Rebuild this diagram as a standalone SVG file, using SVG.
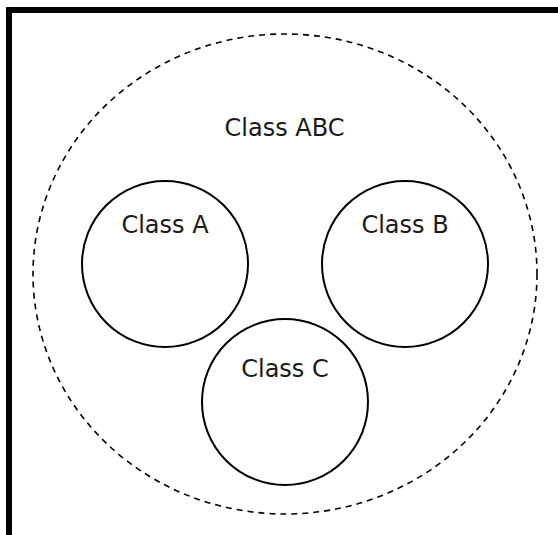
<svg xmlns="http://www.w3.org/2000/svg" width="558" height="535" viewBox="0 0 558 535">
<style>
.t{font-family:"DejaVu Sans","Verdana",sans-serif;font-size:24px;fill:#1a1a1a;text-anchor:middle}
.c{fill:none;stroke:#000;stroke-width:2}
</style>
<rect width="558" height="535" fill="#fff"/>
<path d="M9,535 V10 H558" fill="none" stroke="#000" stroke-width="6"/>
<g id="abc"><ellipse cx="285" cy="274" rx="252" ry="240" fill="none" stroke="#000" stroke-width="1.6" stroke-dasharray="6,5"/><text class="t" x="284.5" y="136">Class ABC</text></g>
<g id="a"><circle class="c" cx="165" cy="264" r="83"/><text class="t" x="165" y="233">Class A</text></g>
<g id="b"><circle class="c" cx="405" cy="264" r="83"/><text class="t" x="405" y="233">Class B</text></g>
<g id="cc"><circle class="c" cx="285" cy="402" r="83"/><text class="t" x="285" y="377">Class C</text></g>
<g id="connectors"/>
</svg>
